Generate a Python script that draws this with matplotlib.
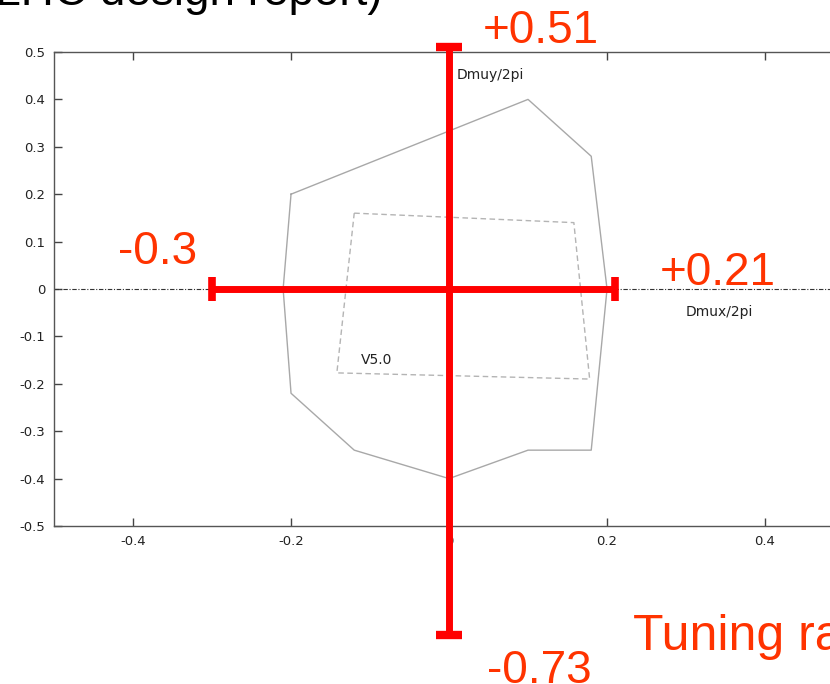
import matplotlib
matplotlib.use("Agg")
import matplotlib.pyplot as plt

plt.rcParams['font.family'] = ['Liberation Sans', 'DejaVu Sans']

# tune-shift envelopes (Dmux/2pi, Dmuy/2pi)
outer_x = [-0.20, 0.10, 0.18, 0.20, 0.18, 0.10, 0.00, -0.12, -0.20, -0.21, -0.20]
outer_y = [0.20, 0.40, 0.28, 0.00, -0.34, -0.34, -0.40, -0.34, -0.22, 0.00, 0.20]
v50_x = [-0.12, 0.158, 0.178, -0.142, -0.12]
v50_y = [0.16, 0.14, -0.19, -0.177, 0.16]

# tuning range limits
tune_x = [-0.3, 0.21]
tune_y = [-0.73, 0.51]

xticks = [-0.4, -0.2, 0, 0.2, 0.4]
yticks = [-0.5, -0.4, -0.3, -0.2, -0.1, 0, 0.1, 0.2, 0.3, 0.4, 0.5]

red = '#ff0000'
orange = '#ff3300'
small = dict(family='DejaVu Sans', fontsize=10, color='#222222', va='center')

fig = plt.figure(figsize=(8.3, 6.84), dpi=100)
ax = fig.add_axes([0.0651, 0.2310, 0.9518, 0.6930])
ax.set_xlim(-0.5, 0.5)
ax.set_ylim(-0.5, 0.5)

ax.axhline(0, color='#333333', lw=0.8, ls=(0, (4, 1.5, 1, 1.5)))

ax.plot(outer_x, outer_y, color='#a8a8a8', lw=1)
ax.plot(v50_x, v50_y, color='#b4b4b4', lw=1, ls=(0, (4, 2.5)))

ax.text(0.009, 0.451, 'Dmuy/2pi', **small)
ax.text(0.299, -0.049, 'Dmux/2pi', **small)
ax.text(-0.111, -0.15, 'V5.0', **small)

# red cross with end caps
ax.plot([0, 0], tune_y, color=red, lw=5, clip_on=False, zorder=5, solid_capstyle='butt')
ax.plot(tune_x, [0, 0], color=red, lw=5, clip_on=False, zorder=5, solid_capstyle='butt')
ax.plot([0, 0], tune_y, ls='none', marker='_', ms=19, mew=6, color=red, clip_on=False, zorder=6)
ax.plot(tune_x, [0, 0], ls='none', marker='|', ms=17, mew=5.5, color=red, clip_on=False, zorder=6)

big = dict(fontsize=33, color=orange, va='baseline', clip_on=False)
ax.text(0.043, 0.519, '+%.2f' % tune_y[1], ha='left', **big)
ax.text(0.048, -0.831, '%.2f' % tune_y[0], ha='left', **big)
ax.text(-0.419, 0.053, '%.1f' % tune_x[0], ha='left', **big)
ax.text(0.267, 0.008, '+%.2f' % tune_x[1], ha='left', **big)
ax.text(0.233, -0.762, 'Tuning range', ha='left', fontsize=36, color=orange,
        va='baseline', clip_on=False)
ax.text(-0.0835, 0.600, '(LHC design report)', ha='right', fontsize=33,
        color='black', va='baseline', clip_on=False)

ax.set_xticks(xticks)
ax.set_xticklabels(['-0.4', '-0.2', '0', '0.2', '0.4'], family='DejaVu Sans')
ax.set_yticks(yticks)
ax.set_yticklabels(['-0.5', '-0.4', '-0.3', '-0.2', '-0.1', '0', '0.1', '0.2', '0.3', '0.4', '0.5'],
                   family='DejaVu Sans')
ax.tick_params(direction='in', length=6, width=1, color='#444444', labelsize=9.5,
               labelcolor='#222222', top=True, right=True, pad=6.5)
for s in ax.spines.values():
    s.set_color('#555555')
    s.set_linewidth(1)

fig.savefig('out.png', dpi=100)
